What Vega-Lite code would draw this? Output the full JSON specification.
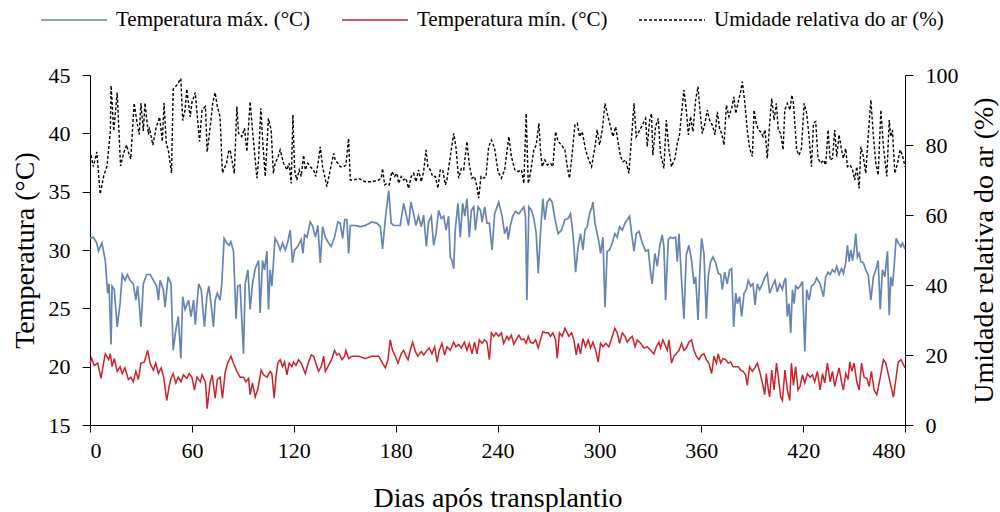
{
  "$schema": "https://vega.github.io/schema/vega-lite/v6.json",
  "width": 815,
  "height": 350,
  "autosize": {"type": "none"},
  "padding": {"left": 90, "top": 75, "right": 95, "bottom": 87},
  "background": "white",
  "config": {
    "font": "Liberation Serif",
    "view": {"stroke": null},
    "axis": {
      "grid": false,
      "domainColor": "black",
      "domainWidth": 1,
      "tickColor": "black",
      "tickSize": 7,
      "labelColor": "black",
      "titleColor": "black",
      "labelFont": "Liberation Serif",
      "titleFont": "Liberation Serif",
      "labelFontSize": 22,
      "titleFontSize": 28,
      "titleFontWeight": "normal"
    },
    "legend": {
      "orient": "none",
      "legendX": -50,
      "legendY": -89,
      "direction": "horizontal",
      "symbolType": "stroke",
      "symbolSize": 4356,
      "symbolStrokeWidth": 1.5,
      "labelFont": "Liberation Serif",
      "labelFontSize": 21,
      "labelColor": "black",
      "labelOffset": 8,
      "columnPadding": 28,
      "labelLimit": 400
    }
  },
  "datasets": {
    "tmax": [
      {"d":0,"v":31.0},{"d":2,"v":31.1},{"d":4,"v":30.6},{"d":5,"v":29.9},{"d":7,"v":30.6},{"d":9,"v":29.1},{"d":10.4,"v":26.3},{"d":11.2,"v":27.1},{"d":12.4,"v":21.9},{"d":13,"v":26.9},{"d":14.3,"v":26.6},{"d":16,"v":23.4},{"d":17.7,"v":25.4},{"d":19,"v":27.9},{"d":20.6,"v":27.4},{"d":22,"v":27.9},{"d":23.6,"v":27.4},{"d":25.5,"v":27.1},{"d":27,"v":25.7},{"d":28,"v":26.9},{"d":29,"v":25.4},{"d":30,"v":23.4},{"d":31.4,"v":27.1},{"d":33.4,"v":27.9},{"d":35.4,"v":27.9},{"d":37.3,"v":27.4},{"d":39.3,"v":26.9},{"d":40.3,"v":25.7},{"d":41.3,"v":27.4},{"d":43.2,"v":26.6},{"d":44.2,"v":25.1},{"d":46,"v":27.7},{"d":47.7,"v":27.1},{"d":49,"v":21.4},{"d":50.5,"v":23.1},{"d":52,"v":24.3},{"d":53.5,"v":20.7},{"d":54.6,"v":26.0},{"d":56,"v":24.9},{"d":58,"v":25.7},{"d":59.5,"v":24.3},{"d":61,"v":25.7},{"d":62,"v":23.6},{"d":64,"v":27.1},{"d":65.5,"v":26.6},{"d":67.4,"v":23.4},{"d":68.8,"v":26.0},{"d":70,"v":26.9},{"d":71.3,"v":25.4},{"d":72.7,"v":23.4},{"d":73.7,"v":25.7},{"d":75,"v":26.3},{"d":76.6,"v":25.7},{"d":77.6,"v":27.1},{"d":79,"v":31.0},{"d":80.5,"v":30.6},{"d":82,"v":30.4},{"d":83,"v":30.7},{"d":84.5,"v":29.9},{"d":86,"v":24.1},{"d":87,"v":26.9},{"d":88.4,"v":27.0},{"d":90.4,"v":21.1},{"d":91.4,"v":27.1},{"d":93,"v":28.3},{"d":94.3,"v":24.9},{"d":95.7,"v":27.1},{"d":97.3,"v":28.4},{"d":99.3,"v":29.1},{"d":100.2,"v":24.6},{"d":101.6,"v":29.1},{"d":102.8,"v":28.3},{"d":104.2,"v":29.9},{"d":105.1,"v":24.9},{"d":106.1,"v":28.3},{"d":107.1,"v":26.9},{"d":109,"v":31.0},{"d":110.6,"v":30.6},{"d":112,"v":30.0},{"d":113.4,"v":30.6},{"d":115,"v":30.0},{"d":116.5,"v":30.7},{"d":117.9,"v":31.7},{"d":119.3,"v":28.9},{"d":120.5,"v":30.0},{"d":122.4,"v":30.3},{"d":124.4,"v":30.9},{"d":125.4,"v":29.7},{"d":126.4,"v":31.3},{"d":127.8,"v":31.1},{"d":129.7,"v":32.4},{"d":131,"v":32.1},{"d":132.7,"v":31.1},{"d":134.2,"v":32.1},{"d":135.6,"v":28.9},{"d":137,"v":32.0},{"d":138.6,"v":31.1},{"d":140.5,"v":30.6},{"d":142,"v":30.3},{"d":144,"v":31.1},{"d":146,"v":32.4},{"d":147.4,"v":32.3},{"d":148.8,"v":31.0},{"d":150,"v":32.6},{"d":151.3,"v":32.6},{"d":152.3,"v":29.7},{"d":153.3,"v":32.1},{"d":156.3,"v":32.1},{"d":159.2,"v":32.0},{"d":162.1,"v":32.1},{"d":166,"v":32.4},{"d":169,"v":32.3},{"d":171,"v":32.0},{"d":172.3,"v":30.1},{"d":173.9,"v":32.6},{"d":175.9,"v":35.1},{"d":177.4,"v":32.3},{"d":178.8,"v":32.1},{"d":180.8,"v":32.1},{"d":182.7,"v":32.1},{"d":184.7,"v":34.0},{"d":186.1,"v":33.1},{"d":187.6,"v":32.1},{"d":189,"v":34.1},{"d":190.6,"v":33.1},{"d":192,"v":32.1},{"d":193.5,"v":32.9},{"d":195.1,"v":32.0},{"d":196.5,"v":33.0},{"d":198.1,"v":30.3},{"d":199.4,"v":32.4},{"d":201,"v":32.9},{"d":202.4,"v":30.4},{"d":203.8,"v":31.4},{"d":205.3,"v":33.4},{"d":206.9,"v":32.7},{"d":208.3,"v":32.9},{"d":209.7,"v":31.7},{"d":211.2,"v":32.9},{"d":212.2,"v":29.4},{"d":213.2,"v":29.1},{"d":214.2,"v":28.4},{"d":215.1,"v":31.7},{"d":216.7,"v":34.0},{"d":218.1,"v":31.1},{"d":219.5,"v":34.0},{"d":220.7,"v":32.9},{"d":222,"v":34.4},{"d":223.4,"v":31.1},{"d":224.6,"v":33.4},{"d":226,"v":33.7},{"d":227,"v":31.7},{"d":228.6,"v":33.7},{"d":230,"v":33.4},{"d":230.9,"v":32.4},{"d":232.5,"v":33.7},{"d":233.8,"v":32.3},{"d":235.2,"v":32.3},{"d":236.8,"v":30.0},{"d":238.3,"v":33.1},{"d":240.7,"v":34.1},{"d":242.7,"v":32.9},{"d":244.2,"v":31.4},{"d":245.6,"v":32.0},{"d":246.3,"v":30.9},{"d":247.6,"v":32.1},{"d":249,"v":32.9},{"d":250.6,"v":33.3},{"d":252.6,"v":33.1},{"d":254.1,"v":33.4},{"d":255.5,"v":33.7},{"d":256.5,"v":32.9},{"d":257.3,"v":25.7},{"d":258.5,"v":33.7},{"d":260,"v":33.4},{"d":261.4,"v":32.7},{"d":262.8,"v":31.4},{"d":264,"v":28.0},{"d":265.3,"v":31.4},{"d":266.7,"v":34.4},{"d":267.9,"v":32.6},{"d":269.3,"v":34.1},{"d":270.8,"v":34.4},{"d":272.2,"v":34.1},{"d":273.8,"v":32.7},{"d":275.7,"v":31.4},{"d":277.7,"v":31.7},{"d":279.7,"v":32.6},{"d":281.6,"v":32.7},{"d":283,"v":33.1},{"d":284,"v":32.0},{"d":285,"v":30.4},{"d":286,"v":28.1},{"d":287.5,"v":30.3},{"d":288.9,"v":31.4},{"d":290.3,"v":30.0},{"d":291.5,"v":31.7},{"d":292.8,"v":32.0},{"d":294.2,"v":33.1},{"d":295.4,"v":33.6},{"d":296.2,"v":34.1},{"d":297.4,"v":32.3},{"d":298.7,"v":31.4},{"d":299.7,"v":30.7},{"d":300.7,"v":29.7},{"d":302.1,"v":31.1},{"d":303.3,"v":25.1},{"d":304.6,"v":29.9},{"d":306,"v":30.0},{"d":307.6,"v":30.6},{"d":309.1,"v":31.4},{"d":310.5,"v":31.1},{"d":311.9,"v":32.0},{"d":313.5,"v":31.7},{"d":315.1,"v":32.3},{"d":316.4,"v":32.6},{"d":317.8,"v":32.9},{"d":319,"v":31.4},{"d":320.4,"v":29.9},{"d":321.7,"v":31.4},{"d":323.3,"v":31.6},{"d":325.3,"v":30.6},{"d":327.2,"v":29.9},{"d":328.8,"v":30.0},{"d":330.2,"v":28.0},{"d":331.1,"v":27.1},{"d":332.7,"v":29.7},{"d":334.1,"v":28.6},{"d":335.5,"v":30.3},{"d":337,"v":31.3},{"d":338,"v":30.3},{"d":339,"v":25.7},{"d":340.6,"v":30.9},{"d":341.9,"v":31.1},{"d":343.3,"v":31.0},{"d":344.9,"v":31.1},{"d":345.9,"v":29.0},{"d":346.9,"v":31.4},{"d":348.4,"v":27.4},{"d":349.8,"v":24.1},{"d":351.2,"v":29.6},{"d":352.7,"v":30.4},{"d":354.3,"v":29.1},{"d":355.7,"v":27.1},{"d":356.7,"v":27.7},{"d":358.1,"v":24.0},{"d":359.2,"v":28.3},{"d":360.2,"v":31.0},{"d":361.6,"v":29.7},{"d":363,"v":24.1},{"d":364.1,"v":27.7},{"d":365.5,"v":29.0},{"d":366.9,"v":29.4},{"d":368.5,"v":28.9},{"d":370,"v":28.0},{"d":371.4,"v":27.9},{"d":372.4,"v":26.6},{"d":373.8,"v":28.1},{"d":375.3,"v":27.1},{"d":376.7,"v":28.3},{"d":377.9,"v":28.4},{"d":379.1,"v":23.4},{"d":380.3,"v":26.3},{"d":381.3,"v":25.4},{"d":382.6,"v":26.0},{"d":383.8,"v":24.3},{"d":385.2,"v":26.3},{"d":386.5,"v":26.6},{"d":387.7,"v":27.4},{"d":389.1,"v":26.9},{"d":390.5,"v":27.1},{"d":391.7,"v":25.3},{"d":393,"v":27.1},{"d":394.4,"v":26.6},{"d":396,"v":27.1},{"d":397.6,"v":27.7},{"d":398.9,"v":28.0},{"d":400.3,"v":26.3},{"d":401.9,"v":26.9},{"d":403.4,"v":27.4},{"d":404.8,"v":26.4},{"d":406.2,"v":27.1},{"d":407.8,"v":26.6},{"d":408.8,"v":27.3},{"d":409.7,"v":27.6},{"d":410.7,"v":24.3},{"d":411.7,"v":25.4},{"d":412.7,"v":22.9},{"d":413.7,"v":26.6},{"d":414.7,"v":25.4},{"d":415.6,"v":26.9},{"d":417,"v":26.7},{"d":418.2,"v":26.9},{"d":419.6,"v":27.3},{"d":421,"v":21.3},{"d":422.1,"v":26.6},{"d":423.5,"v":25.7},{"d":424.9,"v":26.9},{"d":426.5,"v":27.1},{"d":428,"v":27.6},{"d":430,"v":27.1},{"d":432,"v":26.0},{"d":433.3,"v":27.7},{"d":434.7,"v":28.1},{"d":435.9,"v":27.9},{"d":437.3,"v":28.3},{"d":438.6,"v":28.1},{"d":439.8,"v":28.6},{"d":441.2,"v":27.9},{"d":442.6,"v":28.4},{"d":443.7,"v":28.0},{"d":445.1,"v":28.9},{"d":446.1,"v":30.4},{"d":447.1,"v":29.0},{"d":448.1,"v":30.0},{"d":449.1,"v":29.1},{"d":450,"v":29.9},{"d":451,"v":31.4},{"d":452,"v":29.4},{"d":453,"v":29.7},{"d":454,"v":29.0},{"d":455.5,"v":28.9},{"d":456.9,"v":28.3},{"d":458.3,"v":27.9},{"d":459.9,"v":25.7},{"d":461.4,"v":27.7},{"d":462.8,"v":28.3},{"d":464.2,"v":29.1},{"d":465.4,"v":24.9},{"d":466.7,"v":28.3},{"d":468.1,"v":27.7},{"d":469.7,"v":29.9},{"d":470.7,"v":24.4},{"d":471.6,"v":27.7},{"d":472.6,"v":26.9},{"d":473.6,"v":28.6},{"d":474.8,"v":31.0},{"d":476,"v":30.6},{"d":477.6,"v":30.3},{"d":478.5,"v":30.6},{"d":480,"v":30.1}
    ],
    "tmin": [
      {"d":0,"v":20.3},{"d":1,"v":20.7},{"d":2.5,"v":20.1},{"d":4.5,"v":20.3},{"d":6.5,"v":19.0},{"d":8,"v":20.3},{"d":9,"v":21.1},{"d":11,"v":20.6},{"d":12,"v":21.1},{"d":13,"v":20.0},{"d":14.3,"v":20.7},{"d":16,"v":19.6},{"d":17.7,"v":20.0},{"d":19,"v":19.4},{"d":20.6,"v":19.9},{"d":22.6,"v":18.9},{"d":24,"v":19.1},{"d":25.5,"v":18.7},{"d":27,"v":19.6},{"d":28.5,"v":18.9},{"d":30,"v":20.3},{"d":32,"v":20.4},{"d":34,"v":21.4},{"d":35.4,"v":20.3},{"d":37.3,"v":19.7},{"d":38.7,"v":20.3},{"d":40.3,"v":19.4},{"d":41.9,"v":19.9},{"d":43.4,"v":19.1},{"d":45.2,"v":17.1},{"d":46.6,"v":18.3},{"d":47.7,"v":19.0},{"d":49,"v":19.4},{"d":50.5,"v":18.6},{"d":52,"v":19.1},{"d":53.6,"v":18.7},{"d":55,"v":19.3},{"d":57,"v":19.0},{"d":58.4,"v":19.4},{"d":60,"v":19.1},{"d":61.5,"v":18.0},{"d":63,"v":19.1},{"d":65,"v":18.7},{"d":66,"v":19.3},{"d":68,"v":18.7},{"d":69,"v":16.4},{"d":70.7,"v":18.6},{"d":72,"v":19.3},{"d":73.7,"v":17.3},{"d":75,"v":18.9},{"d":76.6,"v":19.1},{"d":78,"v":17.3},{"d":79.6,"v":19.5},{"d":81,"v":20.3},{"d":83,"v":20.9},{"d":84.5,"v":20.3},{"d":86.5,"v":19.6},{"d":88.4,"v":19.1},{"d":90.4,"v":19.1},{"d":91.8,"v":18.7},{"d":93.4,"v":19.0},{"d":94.3,"v":17.6},{"d":95.7,"v":18.6},{"d":97.3,"v":17.4},{"d":98.9,"v":18.1},{"d":100.8,"v":19.7},{"d":102.2,"v":19.3},{"d":104.2,"v":19.1},{"d":106.1,"v":19.6},{"d":107.1,"v":19.4},{"d":108.5,"v":17.3},{"d":109.5,"v":19.1},{"d":110.6,"v":20.3},{"d":112,"v":20.6},{"d":113.4,"v":20.0},{"d":114.6,"v":20.4},{"d":116,"v":19.3},{"d":117.3,"v":20.3},{"d":118.9,"v":20.0},{"d":119.9,"v":20.4},{"d":121.3,"v":20.1},{"d":122.8,"v":20.6},{"d":124.4,"v":20.3},{"d":126.8,"v":19.4},{"d":128.7,"v":20.4},{"d":130.3,"v":21.0},{"d":131.7,"v":20.9},{"d":133,"v":20.3},{"d":134.6,"v":19.6},{"d":136.2,"v":20.0},{"d":137.6,"v":20.9},{"d":138.6,"v":19.6},{"d":140.5,"v":20.1},{"d":142.5,"v":20.7},{"d":144,"v":21.4},{"d":145.4,"v":21.0},{"d":146.8,"v":21.1},{"d":148.4,"v":20.6},{"d":150,"v":20.9},{"d":150.7,"v":21.4},{"d":152.3,"v":20.7},{"d":154.3,"v":20.9},{"d":158.2,"v":20.9},{"d":162.1,"v":20.7},{"d":166,"v":20.9},{"d":170,"v":20.9},{"d":172.3,"v":20.3},{"d":173.9,"v":19.9},{"d":175.5,"v":20.6},{"d":176.8,"v":22.3},{"d":178.2,"v":21.4},{"d":179.8,"v":20.9},{"d":181.4,"v":20.3},{"d":183.3,"v":21.1},{"d":184.7,"v":21.4},{"d":186.1,"v":20.9},{"d":187.3,"v":20.6},{"d":188.6,"v":21.4},{"d":190,"v":22.1},{"d":191.6,"v":21.3},{"d":193.1,"v":20.9},{"d":195.1,"v":21.3},{"d":196.5,"v":21.0},{"d":198.5,"v":21.4},{"d":199.8,"v":21.6},{"d":201.4,"v":21.1},{"d":203,"v":21.7},{"d":204.4,"v":20.4},{"d":205.7,"v":21.4},{"d":207.3,"v":22.0},{"d":208.9,"v":21.0},{"d":210.2,"v":21.7},{"d":212.2,"v":21.4},{"d":214.2,"v":22.1},{"d":215.5,"v":21.7},{"d":217.1,"v":21.9},{"d":218.7,"v":21.6},{"d":220.5,"v":22.1},{"d":222,"v":21.4},{"d":223.4,"v":22.0},{"d":225,"v":21.1},{"d":226.5,"v":22.1},{"d":227.9,"v":21.1},{"d":229.3,"v":22.3},{"d":230.9,"v":22.0},{"d":232.4,"v":22.3},{"d":233.8,"v":22.1},{"d":235.2,"v":20.6},{"d":236.4,"v":22.9},{"d":237.8,"v":22.6},{"d":239.1,"v":22.9},{"d":240.7,"v":22.6},{"d":242.3,"v":22.9},{"d":243.6,"v":22.0},{"d":245.6,"v":22.6},{"d":246.7,"v":22.3},{"d":248.2,"v":22.7},{"d":249.6,"v":21.9},{"d":251,"v":22.3},{"d":252.6,"v":22.7},{"d":254.1,"v":22.3},{"d":255.5,"v":22.4},{"d":256.9,"v":22.0},{"d":258.1,"v":22.6},{"d":259.4,"v":22.1},{"d":260.8,"v":22.0},{"d":262.4,"v":22.3},{"d":264,"v":21.6},{"d":265.3,"v":22.3},{"d":266.7,"v":23.0},{"d":268.3,"v":22.9},{"d":269.9,"v":22.9},{"d":271.2,"v":22.6},{"d":272.6,"v":22.9},{"d":274.2,"v":22.3},{"d":275.2,"v":20.7},{"d":276.5,"v":22.9},{"d":278.1,"v":22.6},{"d":279.7,"v":23.3},{"d":281.1,"v":22.9},{"d":282,"v":22.6},{"d":283.6,"v":22.9},{"d":285,"v":22.3},{"d":286.4,"v":21.0},{"d":287.5,"v":22.0},{"d":288.9,"v":21.1},{"d":290.3,"v":22.4},{"d":291.9,"v":21.7},{"d":293.4,"v":22.3},{"d":294.8,"v":21.6},{"d":296.2,"v":22.1},{"d":297.8,"v":21.4},{"d":299.3,"v":20.4},{"d":300.7,"v":22.0},{"d":302.1,"v":21.7},{"d":303.7,"v":22.0},{"d":305.6,"v":21.7},{"d":307.6,"v":22.6},{"d":309.1,"v":23.3},{"d":310.5,"v":22.9},{"d":311.9,"v":22.0},{"d":313.5,"v":22.9},{"d":315.1,"v":22.6},{"d":316.4,"v":22.1},{"d":317.8,"v":22.4},{"d":319.4,"v":22.6},{"d":321,"v":21.7},{"d":322.3,"v":22.3},{"d":324.3,"v":22.0},{"d":326.3,"v":21.6},{"d":328.2,"v":21.7},{"d":330.2,"v":21.4},{"d":332.1,"v":21.1},{"d":333.5,"v":21.7},{"d":335.1,"v":22.1},{"d":336,"v":21.6},{"d":337.4,"v":22.3},{"d":338.6,"v":21.9},{"d":340,"v":21.4},{"d":341,"v":22.3},{"d":342.5,"v":20.3},{"d":343.9,"v":20.9},{"d":345.3,"v":21.1},{"d":346.9,"v":21.4},{"d":348.4,"v":22.0},{"d":349.8,"v":21.4},{"d":351.2,"v":21.6},{"d":352.7,"v":22.1},{"d":354.3,"v":22.3},{"d":355.7,"v":21.4},{"d":357.1,"v":20.9},{"d":358.6,"v":20.6},{"d":360.2,"v":21.0},{"d":361.6,"v":21.1},{"d":363,"v":20.6},{"d":364.5,"v":20.3},{"d":366.1,"v":19.4},{"d":367.5,"v":20.9},{"d":368.9,"v":20.3},{"d":370,"v":21.1},{"d":371.4,"v":20.3},{"d":372.8,"v":20.7},{"d":374.4,"v":20.6},{"d":375.9,"v":20.3},{"d":377.3,"v":20.4},{"d":378.7,"v":20.0},{"d":380.3,"v":20.0},{"d":381.8,"v":20.0},{"d":383.2,"v":19.7},{"d":384.6,"v":19.6},{"d":386.1,"v":19.3},{"d":387.1,"v":18.4},{"d":388.5,"v":20.0},{"d":390.1,"v":19.6},{"d":391.6,"v":19.9},{"d":393,"v":20.3},{"d":394.4,"v":19.6},{"d":396,"v":18.6},{"d":397.4,"v":17.6},{"d":398.3,"v":19.4},{"d":399.5,"v":18.0},{"d":400.3,"v":17.4},{"d":401.5,"v":19.7},{"d":402.9,"v":18.0},{"d":404.3,"v":20.3},{"d":405.4,"v":19.1},{"d":406.8,"v":17.4},{"d":407.8,"v":17.1},{"d":409.3,"v":19.7},{"d":410.7,"v":18.0},{"d":412.1,"v":17.1},{"d":413.1,"v":20.3},{"d":414.3,"v":18.4},{"d":415.6,"v":20.0},{"d":417,"v":18.0},{"d":418.2,"v":18.3},{"d":419.6,"v":19.3},{"d":421,"v":18.6},{"d":422.5,"v":19.4},{"d":424.1,"v":19.1},{"d":425.5,"v":19.3},{"d":426.8,"v":18.7},{"d":428.4,"v":19.6},{"d":430,"v":18.0},{"d":431.4,"v":19.4},{"d":432.7,"v":18.6},{"d":434.3,"v":20.3},{"d":435.9,"v":18.7},{"d":437.3,"v":19.6},{"d":438.6,"v":18.3},{"d":439.8,"v":19.1},{"d":441.2,"v":19.9},{"d":442.6,"v":18.7},{"d":443.7,"v":18.0},{"d":445.1,"v":19.4},{"d":446.5,"v":18.9},{"d":447.5,"v":20.4},{"d":448.7,"v":19.6},{"d":450,"v":20.3},{"d":451.6,"v":18.7},{"d":453,"v":18.0},{"d":454.4,"v":20.3},{"d":455.9,"v":19.1},{"d":457.5,"v":19.0},{"d":458.9,"v":18.3},{"d":460.2,"v":19.6},{"d":461.8,"v":18.0},{"d":463.4,"v":17.6},{"d":464.8,"v":18.6},{"d":466.2,"v":19.7},{"d":467.3,"v":20.6},{"d":468.7,"v":20.3},{"d":470.1,"v":19.4},{"d":471.6,"v":18.4},{"d":473.2,"v":17.4},{"d":474.6,"v":18.9},{"d":476,"v":20.4},{"d":477.6,"v":20.6},{"d":478.7,"v":20.3},{"d":480,"v":19.9}
    ],
    "umid": [
      {"d":0.6,"v":77.1},{"d":2,"v":73.8},{"d":4,"v":78},{"d":6,"v":66},{"d":8,"v":71},{"d":10,"v":74},{"d":12,"v":84},{"d":12.4,"v":97},{"d":14,"v":84},{"d":16,"v":95},{"d":18,"v":74},{"d":20,"v":78},{"d":21.6,"v":80},{"d":22.6,"v":78},{"d":24,"v":76},{"d":26,"v":92},{"d":27.5,"v":87},{"d":29,"v":83},{"d":30,"v":92},{"d":31.4,"v":84},{"d":32.4,"v":92},{"d":34.4,"v":83},{"d":35,"v":85},{"d":37,"v":80},{"d":39,"v":85},{"d":41,"v":88},{"d":42.6,"v":81},{"d":43.6,"v":92},{"d":45,"v":80},{"d":46,"v":79},{"d":48,"v":72},{"d":49,"v":96},{"d":51,"v":97},{"d":53.5,"v":99},{"d":54.6,"v":87},{"d":56,"v":90},{"d":57,"v":96},{"d":59,"v":88},{"d":60,"v":92},{"d":62,"v":95},{"d":64.5,"v":81},{"d":66,"v":90},{"d":68,"v":91},{"d":69,"v":78},{"d":71,"v":86},{"d":72.3,"v":92},{"d":73.7,"v":95},{"d":75,"v":91},{"d":76.6,"v":88},{"d":78,"v":72},{"d":80.5,"v":75},{"d":81.6,"v":78.1},{"d":82.5,"v":78.6},{"d":85,"v":71.9},{"d":86.5,"v":91},{"d":87.5,"v":83.3},{"d":89.4,"v":82.4},{"d":91,"v":84.8},{"d":92.4,"v":78.1},{"d":94.3,"v":92.4},{"d":95.7,"v":84.3},{"d":98.3,"v":70.5},{"d":99.3,"v":75.7},{"d":100.6,"v":90.5},{"d":101.8,"v":80.5},{"d":103.2,"v":71},{"d":105.1,"v":87.6},{"d":106.7,"v":84.3},{"d":108,"v":71.9},{"d":109,"v":74.8},{"d":110.5,"v":76.2},{"d":112,"v":78.6},{"d":114,"v":74.8},{"d":116,"v":72.9},{"d":117.3,"v":74.8},{"d":118.5,"v":69},{"d":119.5,"v":88.6},{"d":120.5,"v":72.9},{"d":121.8,"v":70},{"d":123.2,"v":72.9},{"d":124.4,"v":71},{"d":125.8,"v":77.1},{"d":126.8,"v":72.9},{"d":128.3,"v":74.8},{"d":129.7,"v":73.8},{"d":131.7,"v":72.9},{"d":133,"v":71},{"d":134.6,"v":75.7},{"d":135.6,"v":79.5},{"d":137,"v":73.8},{"d":139.5,"v":68.1},{"d":141.5,"v":72.9},{"d":143.5,"v":77.6},{"d":144.4,"v":75.7},{"d":146,"v":74.8},{"d":147.4,"v":73.8},{"d":149.4,"v":73.8},{"d":150.7,"v":74.3},{"d":152.3,"v":81.9},{"d":153.3,"v":70},{"d":155.3,"v":70},{"d":158.2,"v":70.5},{"d":162,"v":69.5},{"d":166,"v":69.5},{"d":170,"v":70},{"d":171.5,"v":70.5},{"d":172.3,"v":73.3},{"d":173.5,"v":68.6},{"d":174.9,"v":69},{"d":176.2,"v":68.6},{"d":177.8,"v":72.4},{"d":179.4,"v":71},{"d":180.8,"v":71.9},{"d":181.8,"v":69},{"d":183.3,"v":71},{"d":184.7,"v":70},{"d":186.1,"v":70.5},{"d":187.6,"v":67.6},{"d":189.2,"v":71},{"d":190.6,"v":71.9},{"d":192,"v":69.5},{"d":193.5,"v":72.9},{"d":195.1,"v":69.5},{"d":196.5,"v":72.4},{"d":197.9,"v":78.6},{"d":199,"v":73.8},{"d":200.4,"v":72.9},{"d":201.8,"v":71},{"d":203.4,"v":71},{"d":204.9,"v":67.6},{"d":206.3,"v":72.9},{"d":207.7,"v":72.9},{"d":209.3,"v":68.6},{"d":210.2,"v":70},{"d":212.2,"v":76.7},{"d":214.2,"v":83.3},{"d":215.5,"v":79.5},{"d":217.1,"v":70.5},{"d":218.7,"v":73.3},{"d":220.1,"v":72.9},{"d":222,"v":81},{"d":223.4,"v":74.3},{"d":225,"v":70.5},{"d":226.5,"v":71},{"d":227.9,"v":68.1},{"d":228.9,"v":64.8},{"d":230.3,"v":71},{"d":231.9,"v":70.5},{"d":233.2,"v":71},{"d":234.8,"v":79.5},{"d":236.4,"v":81.4},{"d":238.3,"v":79},{"d":240.3,"v":72.4},{"d":242.3,"v":70.5},{"d":244.2,"v":72.9},{"d":246.7,"v":82.4},{"d":248.2,"v":76.7},{"d":250.2,"v":72.9},{"d":252.2,"v":72.4},{"d":254.1,"v":72.9},{"d":255.5,"v":69},{"d":256.9,"v":89},{"d":258.1,"v":69},{"d":259.4,"v":71.9},{"d":261.4,"v":78.6},{"d":262.8,"v":80},{"d":264.4,"v":86.2},{"d":265.3,"v":78.6},{"d":266.3,"v":73.8},{"d":267.9,"v":75.7},{"d":269.3,"v":74.3},{"d":271.2,"v":74.8},{"d":272.6,"v":73.8},{"d":274.2,"v":83.8},{"d":275.7,"v":81},{"d":277.7,"v":80},{"d":279.7,"v":78.6},{"d":281.1,"v":73.8},{"d":282.4,"v":70.5},{"d":284,"v":77.6},{"d":285.6,"v":85.7},{"d":287,"v":86.2},{"d":288.3,"v":82.4},{"d":289.9,"v":83.8},{"d":291.9,"v":78.6},{"d":293.8,"v":75.7},{"d":295.4,"v":73.8},{"d":297.4,"v":79.5},{"d":298.7,"v":84.3},{"d":300.1,"v":80},{"d":301.7,"v":84.3},{"d":303.3,"v":91.9},{"d":304.6,"v":89},{"d":306.6,"v":85.2},{"d":308,"v":82.4},{"d":309.6,"v":85.2},{"d":311.1,"v":80.5},{"d":312.5,"v":76.7},{"d":313.9,"v":75.2},{"d":315.5,"v":75.7},{"d":317.4,"v":71.9},{"d":319,"v":82.4},{"d":320.4,"v":91.9},{"d":321.7,"v":82.4},{"d":323.3,"v":83.8},{"d":325.3,"v":85.7},{"d":327.2,"v":87.6},{"d":328.2,"v":79.5},{"d":329.6,"v":87.1},{"d":330.7,"v":89},{"d":331.5,"v":77.1},{"d":333.1,"v":85.2},{"d":334.7,"v":87.6},{"d":336,"v":77.6},{"d":338,"v":73.3},{"d":339.4,"v":87.1},{"d":341,"v":78.6},{"d":342.5,"v":73.8},{"d":344.5,"v":76.2},{"d":345.9,"v":80.5},{"d":347.2,"v":82.9},{"d":348.4,"v":89},{"d":349.8,"v":95.7},{"d":351.2,"v":90},{"d":352.4,"v":82.9},{"d":353.7,"v":88.1},{"d":355.1,"v":83.8},{"d":356.7,"v":92.9},{"d":358.1,"v":96.7},{"d":359,"v":91},{"d":360.6,"v":83.3},{"d":362.2,"v":86.2},{"d":363.6,"v":90},{"d":364.9,"v":87.1},{"d":366.5,"v":85.7},{"d":368.1,"v":82.9},{"d":369.5,"v":89.5},{"d":370.8,"v":84.8},{"d":372,"v":83.3},{"d":373.4,"v":80},{"d":374.8,"v":91.4},{"d":376.3,"v":88.1},{"d":377.9,"v":90.5},{"d":379.3,"v":93.8},{"d":380.3,"v":89},{"d":381.8,"v":92.4},{"d":383.2,"v":95.2},{"d":384.2,"v":98.1},{"d":385.8,"v":91.4},{"d":387.1,"v":84.3},{"d":388.5,"v":79},{"d":390.1,"v":76.7},{"d":391.1,"v":90},{"d":392.4,"v":86.2},{"d":393.6,"v":84.3},{"d":395,"v":83.8},{"d":396.4,"v":82.4},{"d":397.6,"v":84.3},{"d":398.9,"v":76.2},{"d":400.3,"v":86.2},{"d":401.5,"v":93.3},{"d":402.9,"v":87.1},{"d":404.2,"v":91.9},{"d":405.4,"v":84.3},{"d":406.8,"v":83.3},{"d":408.2,"v":78.6},{"d":409.2,"v":90},{"d":410.7,"v":91.9},{"d":412.3,"v":90},{"d":413.3,"v":94.3},{"d":414.3,"v":91.9},{"d":415.1,"v":86.2},{"d":416.2,"v":78.6},{"d":417.6,"v":77.1},{"d":419,"v":79},{"d":420.6,"v":91.9},{"d":422.1,"v":89},{"d":423.5,"v":82.4},{"d":424.9,"v":73.8},{"d":426.1,"v":86.2},{"d":427.4,"v":86.7},{"d":428.8,"v":76.2},{"d":430.4,"v":74.8},{"d":432,"v":75.7},{"d":433.3,"v":74.3},{"d":434.7,"v":84.3},{"d":435.9,"v":75.7},{"d":437.3,"v":76.2},{"d":438.6,"v":84.3},{"d":439.8,"v":76.7},{"d":441.2,"v":82.9},{"d":442.6,"v":78.6},{"d":443.7,"v":76.2},{"d":445.1,"v":79},{"d":446.1,"v":73.8},{"d":447.7,"v":74.3},{"d":449.1,"v":72.9},{"d":450.4,"v":70},{"d":451.6,"v":73.8},{"d":453,"v":67.6},{"d":454,"v":79.5},{"d":455.3,"v":77.1},{"d":456.9,"v":71.9},{"d":458.3,"v":82.4},{"d":459.9,"v":92.9},{"d":461.4,"v":82.4},{"d":462.8,"v":74.8},{"d":464.2,"v":71.4},{"d":465.8,"v":90},{"d":467.3,"v":79.5},{"d":469.3,"v":71},{"d":470.7,"v":87.1},{"d":471.6,"v":82.4},{"d":472.6,"v":84.3},{"d":474,"v":71.9},{"d":475.6,"v":74.8},{"d":477.1,"v":78.6},{"d":478.5,"v":77.1},{"d":480,"v":73.8}
    ]
  },
  "encoding": {
    "x": {
      "field": "d",
      "type": "quantitative",
      "scale": {"domain": [0, 480], "nice": false, "zero": false},
      "axis": {
        "values": [0, 60, 120, 180, 240, 300, 360, 420, 480],
        "title": "Dias após transplantio",
        "labelFont": "Liberation Serif",
        "titleFont": "Liberation Serif",
        "labelPadding": 8,
        "titleX": 407.5,
        "titleY": 81,
        "titleAlign": "center",
        "titleBaseline": "alphabetic"
      }
    }
  },
  "layer": [
    {
      "layer": [
        {
          "data": {"name": "tmax"},
          "mark": {"type": "line", "strokeWidth": 1.7, "interpolate": "linear"},
          "encoding": {
            "y": {
              "field": "v",
              "type": "quantitative",
              "scale": {"domain": [15, 45], "nice": false, "zero": false},
              "axis": {
                "values": [15, 20, 25, 30, 35, 40, 45],
                "title": "Temperatura (°C)",
                "labelFont": "Liberation Serif",
                "titleFont": "Liberation Serif",
                "tickSize": 8,
                "labelPadding": 12,
                "titleX": -65,
                "titleY": 175,
                "titleAlign": "center",
                "titleBaseline": "middle",
                "titleAngle": -90
              }
            },
            "color": {
              "datum": "Temperatura máx. (°C)",
              "type": "nominal",
              "scale": {
                "domain": ["Temperatura máx. (°C)", "Temperatura mín. (°C)", "Umidade relativa do ar (%)"],
                "range": ["#6685b4", "#cc2229", "#000000"]
              },
              "legend": {"title": null}
            },
            "strokeDash": {
              "datum": "Temperatura máx. (°C)",
              "type": "nominal",
              "scale": {
                "domain": ["Temperatura máx. (°C)", "Temperatura mín. (°C)", "Umidade relativa do ar (%)"],
                "range": [[1, 0], [1, 0], [3, 2]]
              },
              "legend": {"title": null}
            }
          }
        },
        {
          "data": {"name": "tmin"},
          "mark": {"type": "line", "strokeWidth": 1.5, "interpolate": "linear"},
          "encoding": {
            "y": {"field": "v", "type": "quantitative"},
            "color": {"datum": "Temperatura mín. (°C)", "type": "nominal"},
            "strokeDash": {"datum": "Temperatura mín. (°C)", "type": "nominal"}
          }
        }
      ]
    },
    {
      "data": {"name": "umid"},
      "mark": {"type": "line", "strokeWidth": 1.4, "interpolate": "linear"},
      "encoding": {
        "y": {
          "field": "v",
          "type": "quantitative",
          "scale": {"domain": [0, 100], "nice": false, "zero": true},
          "axis": {
            "orient": "right",
            "values": [0, 20, 40, 60, 80, 100],
            "title": "Umidade relativa do ar (%)",
            "labelFont": "Liberation Serif",
            "titleFont": "Liberation Serif",
            "tickSize": 8,
            "labelPadding": 12,
            "titleX": 79,
            "titleY": 175,
            "titleAlign": "center",
            "titleBaseline": "middle",
            "titleAngle": -90
          }
        },
        "color": {"datum": "Umidade relativa do ar (%)", "type": "nominal"},
        "strokeDash": {"datum": "Umidade relativa do ar (%)", "type": "nominal"}
      }
    }
  ],
  "resolve": {"scale": {"y": "independent"}}
}
